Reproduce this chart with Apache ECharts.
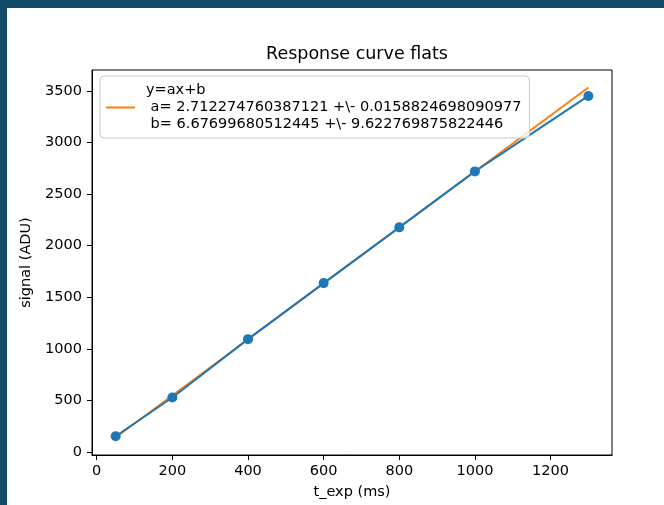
<!DOCTYPE html>
<html>
<head>
<meta charset="utf-8">
<script src="https://cdn.jsdelivr.net/npm/echarts@6/dist/echarts.min.js"></script>
<style>
  html, body { margin: 0; padding: 0; background: #134a66; }
  #wrap { position: absolute; left: 0; top: 0; width: 664px; height: 505px; background: #134a66; }
  #chart { position: absolute; left: 7px; top: 8px; width: 657px; height: 497px; background: #ffffff; }
</style>
</head>
<body>
<div id="wrap"><div id="chart"></div></div>
<script>
// Measured exposure times (ms) and signal (ADU)
const expTimes = [50, 200, 400, 600, 800, 1000, 1300];
const signalValues = [155, 530, 1095, 1638, 2178, 2720, 3451];
// Fitted line y = a x + b at the same exposure times
const fitTimes = [50, 200, 400, 600, 800, 1000, 1300];
const fitValues = [142.3, 549.1, 1091.6, 1634.0, 2176.5, 2718.9, 3532.6];
// Tick labels
const xTicks = [0, 200, 400, 600, 800, 1000, 1200];
const yTicks = [0, 500, 1000, 1500, 2000, 2500, 3000, 3500];
// Texts
const titleText = 'Response curve flats';
const xName = 't_exp (ms)';
const yName = 'signal (ADU)';
const fitLabel = 'y=ax+b\n a= 2.712274760387121 +\\- 0.0158824698090977\n b= 6.67699680512445 +\\- 9.622769875822446';

const FONT = 'DejaVu Sans';
const FS = 14.5;
const chart = echarts.init(document.getElementById('chart'), null, { renderer: 'canvas' });

const axisCommon = {
  type: 'value',
  scale: false,
  splitLine: { show: false },
  axisLine: { show: true, onZero: false, lineStyle: { color: '#000', width: 1 } },
  axisTick: { show: true, inside: false, length: 5, lineStyle: { color: '#000', width: 1 } },
  axisLabel: { color: '#000', fontFamily: FONT, fontSize: FS, formatter: v => String(v) },
  nameTextStyle: { color: '#000', fontFamily: FONT, fontSize: FS },
  nameLocation: 'middle'
};

chart.setOption({
  animation: false,
  backgroundColor: '#ffffff',
  title: {
    text: titleText,
    left: 345, top: 32, textAlign: 'center',
    textStyle: { fontFamily: FONT, fontSize: 17.5, fontWeight: 'normal', color: '#000' }
  },
  grid: { left: 85, right: 52, top: 62, bottom: 46, show: true, borderColor: '#000', borderWidth: 1, backgroundColor: 'transparent' },
  legend: {
    left: 93, top: 68,
    orient: 'vertical',
    padding: [6, 8, 5, 6],
    backgroundColor: 'rgba(255,255,255,0.8)',
    borderColor: '#cccccc', borderWidth: 1, borderRadius: 4,
    itemWidth: 29, itemHeight: 2,
    data: [{ name: fitLabel, icon: 'rect' }],
    textStyle: { fontFamily: FONT, fontSize: FS, lineHeight: 17, color: '#000', padding: [0, 0, 0, 6] }
  },
  xAxis: Object.assign({}, axisCommon, {
    min: -12.5, max: 1362.5,
    name: xName, nameGap: 30,
    axisTick: Object.assign({}, axisCommon.axisTick, { customValues: xTicks }),
    axisLabel: Object.assign({}, axisCommon.axisLabel, { customValues: xTicks, margin: 9 })
  }),
  yAxis: Object.assign({}, axisCommon, {
    min: -27, max: 3702,
    name: yName, nameGap: 44, nameRotate: 90,
    axisTick: Object.assign({}, axisCommon.axisTick, { customValues: yTicks }),
    axisLabel: Object.assign({}, axisCommon.axisLabel, { customValues: yTicks, margin: 10 })
  }),
  series: [
    {
      name: fitLabel,
      type: 'line',
      data: fitTimes.map((t, i) => [t, fitValues[i]]),
      symbol: 'none',
      lineStyle: { color: '#ff7f0e', width: 2 },
      itemStyle: { color: '#ff7f0e' },
      z: 2
    },
    {
      name: 'data',
      type: 'line',
      data: expTimes.map((t, i) => [t, signalValues[i]]),
      symbol: 'circle', symbolSize: 10, showAllSymbol: true,
      lineStyle: { color: '#1f77b4', width: 2 },
      itemStyle: { color: '#1f77b4' },
      z: 3
    }
  ]
});
</script>
</body>
</html>
